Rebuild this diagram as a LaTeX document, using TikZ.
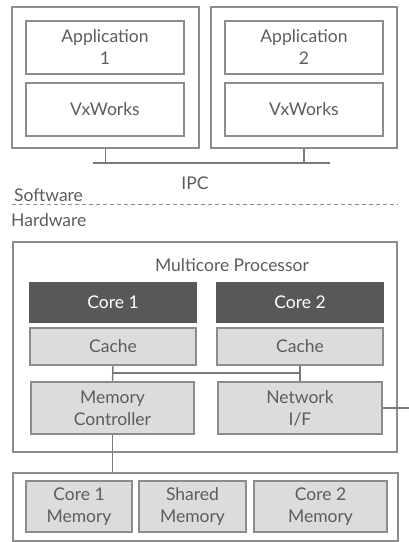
\documentclass[tikz,border=0pt]{standalone}
\usepackage{fontspec}
\setmainfont{Lato}
\definecolor{Edge}{HTML}{8C8C8C}
\definecolor{Pale}{HTML}{DCDCDC}
\definecolor{Dark}{HTML}{585858}
\definecolor{Ink}{HTML}{5C5C5C}
\usepackage{xcolor}
\usepackage{tikz}

\begin{document}
\begin{tikzpicture}[x=1pt,y=-1pt,font=\fontsize{17.5}{22}\selectfont,text=Ink,
  frame/.style={draw=Edge,line width=1.2pt,inner sep=0pt,align=center},
  block/.style={frame,fill=Pale},
  core/.style={frame,draw=Dark,fill=Dark,text=white},
  wire/.style={draw=Dark!80,line width=1.4pt}]
  \useasboundingbox (0,0) rectangle (409,542);

  % Software side: two nodes
  \node[frame,minimum width=187,minimum height=141] (node1) at (105.5,77.5) {};
  \node[frame,minimum width=186,minimum height=141] (node2) at (304,77.5) {};
  \node[frame,minimum width=158,minimum height=53] (app1) at (105,47.5) {Application\\1};
  \node[frame,minimum width=158,minimum height=53] (os1) at (105,109.5) {VxWorks};
  \node[frame,minimum width=158,minimum height=53] (app2) at (304,47.5) {Application\\2};
  \node[frame,minimum width=158,minimum height=53] (os2) at (304,109.5) {VxWorks};

  % IPC link between the nodes
  \coordinate (ipcL) at (93,163);
  \coordinate (ipcR) at (330,163);
  \draw[wire] (ipcL) -- (ipcR);
  \draw[wire] (node1.south) -- (node1.south |- ipcL);
  \draw[wire] (node2.south) -- (node2.south |- ipcR);
  \node (ipc) at (195,183) {IPC};

  % Software / Hardware split
  \coordinate (splitL) at (12,204);
  \coordinate (splitR) at (398,204);
  \draw[Edge,line width=1pt,dashed,dash pattern=on 4pt off 3pt] (splitL) -- (splitR);
  \node[anchor=west,inner sep=0pt] (sw) at (14,195) {Software};
  \node[anchor=west,inner sep=0pt] (hw) at (11,220) {Hardware};

  % Multicore processor
  \node[frame,minimum width=384,minimum height=210] (cpu) at (205,347) {};
  \node (cpulabel) at (232,265) {Multicore Processor};
  \node[core,minimum width=166,minimum height=39] (core1) at (113,302.5) {Core 1};
  \node[core,minimum width=166,minimum height=39] (core2) at (300,302.5) {Core 2};
  \node[block,minimum width=166,minimum height=37] (cache1) at (113,346.5) {Cache};
  \node[block,minimum width=166,minimum height=37] (cache2) at (300,346.5) {Cache};
  \node[block,minimum width=163,minimum height=52] (memctrl) at (112.5,408) {Memory\\Controller};
  \node[block,minimum width=164,minimum height=52] (netif) at (300,408) {Network\\I/F};

  % Internal bus
  \coordinate (bus) at (0,373);
  \draw[wire] (cache1.south) -- (memctrl.north);
  \draw[wire] (cache2.south) -- (netif.north);
  \draw[wire] (cache1.south |- bus) -- (cache2.south |- bus);
  \coordinate (outside) at (409,0);
  \draw[wire] (netif.east) -- (netif.east -| outside);

  % Memory
  \node[frame,minimum width=385,minimum height=68] (mem) at (205.5,507) {};
  \draw[wire] (memctrl.south) -- (memctrl.south |- mem.north);
  \node[block,minimum width=106,minimum height=51] (mem1) at (79,506.5) {Core 1\\Memory};
  \node[block,minimum width=107,minimum height=51] (memsh) at (192.5,506.5) {Shared\\Memory};
  \node[block,minimum width=133,minimum height=51] (mem2) at (320.5,506.5) {Core 2\\Memory};
\end{tikzpicture}
\end{document}
